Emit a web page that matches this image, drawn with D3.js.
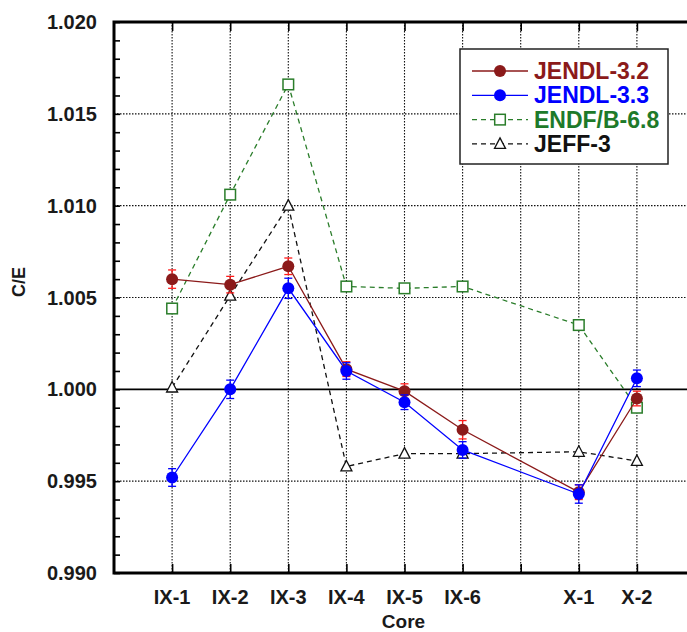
<!DOCTYPE html>
<html>
<head>
<meta charset="utf-8">
<script src="https://cdnjs.cloudflare.com/ajax/libs/d3/7.8.5/d3.min.js"></script>
<style>
body { margin: 0; background: #fff; overflow: hidden; }
text { font-family: "Liberation Sans", Arial, sans-serif; font-weight: bold; }
</style>
</head>
<body>
<div id="chart-area"></div>
<script>
// core names and their position on the x axis
var cores = ["IX-1", "IX-2", "IX-3", "IX-4", "IX-5", "IX-6", "X-1", "X-2"];
var corePos = [1, 2, 3, 4, 5, 6, 8, 9];

var jendl32 = [1.0060, 1.0057, 1.0067, 1.0011, 0.9999, 0.9978, 0.9944, 0.9995];
var jendl32Err = [0.0005, 0.00045, 0.00045, 0.0004, 0.0004, 0.0005, 0.0004, 0.0004];
var jendl33 = [0.9952, 1.0000, 1.0055, 1.0010, 0.9993, 0.9967, 0.9943, 1.0006];
var jendl33Err = [0.00048, 0.0005, 0.00055, 0.00045, 0.0004, 0.00045, 0.0005, 0.00045];
var endf68 = [1.0044, 1.0106, 1.0166, 1.0056, 1.0055, 1.0056, 1.0035, 0.9990];
var jeff3 = [1.0001, 1.0051, 1.0100, 0.9958, 0.9965, 0.9965, 0.9966, 0.9961];

var yTicks = [0.990, 0.995, 1.000, 1.005, 1.010, 1.015, 1.020];

var width = 687, height = 632;
var margin = {left: 114, top: 22, right: 695, bottom: 573};
var pL = margin.left, pT = margin.top, pR = margin.right, pB = margin.bottom;

var svg = d3.select("#chart-area").append("svg")
    .attr("width", width)
    .attr("height", height);

var x = d3.scaleLinear().domain([0, 10]).range([pL, pR]);
var y = d3.scaleLinear().domain([0.990, 1.020]).range([pB, pT]);

// grid
var g = svg.append("g");
g.selectAll(".vgrid").data(d3.range(1, 10)).enter().append("line")
    .attr("x1", (d) => x(d)).attr("x2", (d) => x(d))
    .attr("y1", pT).attr("y2", pB)
    .attr("stroke", "#111").attr("stroke-width", 1.1)
    .attr("stroke-dasharray", "1.5,1.5");

g.selectAll(".hgrid").data(yTicks.filter((d) => d > 0.990 && d < 1.020 && d != 1.000)).enter().append("line")
    .attr("x1", pL).attr("x2", pR)
    .attr("y1", (d) => y(d)).attr("y2", (d) => y(d))
    .attr("stroke", "#111").attr("stroke-width", 1.1)
    .attr("stroke-dasharray", "1.5,1.5");

g.append("line")
    .attr("x1", pL).attr("x2", pR)
    .attr("y1", y(1.000)).attr("y2", y(1.000))
    .attr("stroke", "#000").attr("stroke-width", 1.6);

// axes
var leftAxis = d3.axisRight(y).tickValues(d3.range(0, 31).map((i) => 0.990 + i * 0.001))
    .tickSize(6).tickFormat("");
svg.append("g").attr("transform", "translate(" + pL + ",0)").call(leftAxis)
    .call((a) => a.select(".domain").remove())
    .selectAll("line").attr("stroke-width", 1.6);

var bottomAxis = d3.axisTop(x).tickValues(d3.range(1, 10)).tickSize(9).tickFormat("");
svg.append("g").attr("transform", "translate(0," + pB + ")").call(bottomAxis)
    .call((a) => a.select(".domain").remove())
    .selectAll("line").attr("stroke-width", 1.6);

var topAxis = d3.axisBottom(x).tickValues(d3.range(1, 10)).tickSize(9).tickFormat("");
svg.append("g").attr("transform", "translate(0," + pT + ")").call(topAxis)
    .call((a) => a.select(".domain").remove())
    .selectAll("line").attr("stroke-width", 1.6);

svg.append("rect")
    .attr("x", pL).attr("y", pT)
    .attr("width", pR - pL).attr("height", pB - pT)
    .attr("fill", "none").attr("stroke", "#000").attr("stroke-width", 3);

// tick labels
svg.selectAll(".ylab").data(yTicks).enter().append("text")
    .attr("x", 97).attr("y", (d) => y(d) + 7)
    .attr("text-anchor", "end").attr("font-size", "20px").attr("fill", "#1a1a1a")
    .text((d) => d3.format(".3f")(d));

svg.selectAll(".xlab").data(cores).enter().append("text")
    .attr("x", (d, i) => x(corePos[i])).attr("y", 604)
    .attr("text-anchor", "middle").attr("font-size", "20px").attr("fill", "#1a1a1a")
    .text((d) => d);

svg.append("text")
    .attr("x", (pL + pR) / 2 - 1).attr("y", 628)
    .attr("text-anchor", "middle").attr("font-size", "19px").attr("fill", "#1a1a1a")
    .text("Core");

svg.append("text")
    .attr("transform", "translate(25,282) rotate(-90)")
    .attr("text-anchor", "middle").attr("font-size", "18px").attr("fill", "#1a1a1a")
    .text("C/E");

// series
var series = [
    {name: "ENDF/B-6.8", values: endf68, color: "#2a7d2a", dash: "5,4", marker: "square", text: "#1e7a2a"},
    {name: "JEFF-3", values: jeff3, color: "#111", dash: "5,4", marker: "triangle", text: "#111"},
    {name: "JENDL-3.2", values: jendl32, err: jendl32Err, color: "#8b1a1a", errColor: "#ff1a1a", dash: null, marker: "circle", text: "#8b1a1a"},
    {name: "JENDL-3.3", values: jendl33, err: jendl33Err, color: "#0000ff", errColor: "#0000ff", dash: null, marker: "circle", text: "#0000ff"}
];

var line = d3.line().x((d) => x(d.p)).y((d) => y(d.v));

function drawMarker(sel, s) {
    if (s.marker == "circle") {
        sel.append("circle").attr("r", 6).attr("fill", s.color);
    } else if (s.marker == "square") {
        sel.append("rect").attr("x", -5.3).attr("y", -5.3).attr("width", 10.6).attr("height", 10.6)
            .attr("fill", "#fff").attr("stroke", s.color).attr("stroke-width", 1.5);
    } else {
        sel.append("path").attr("d", "M0,-6L5.5,4.5L-5.5,4.5Z")
            .attr("fill", "#fff").attr("stroke", s.color).attr("stroke-width", 1.3);
    }
}

series.forEach((s) => {
    var pts = s.values.map((v, i) => ({p: corePos[i], v: v, e: s.err ? s.err[i] : 0}));
    var sg = svg.append("g");
    sg.append("path").datum(pts)
        .attr("d", line).attr("fill", "none")
        .attr("stroke", s.color).attr("stroke-width", 1.3)
        .attr("stroke-dasharray", s.dash);

    if (s.err) {
        var eb = sg.selectAll(".err").data(pts).enter().append("g")
            .attr("stroke", s.errColor).attr("stroke-width", 1.3);
        eb.append("line").attr("x1", (d) => x(d.p)).attr("x2", (d) => x(d.p))
            .attr("y1", (d) => y(d.v - d.e)).attr("y2", (d) => y(d.v + d.e));
        eb.append("line").attr("x1", (d) => x(d.p) - 4).attr("x2", (d) => x(d.p) + 4)
            .attr("y1", (d) => y(d.v - d.e)).attr("y2", (d) => y(d.v - d.e));
        eb.append("line").attr("x1", (d) => x(d.p) - 4).attr("x2", (d) => x(d.p) + 4)
            .attr("y1", (d) => y(d.v + d.e)).attr("y2", (d) => y(d.v + d.e));
    }

    sg.selectAll(".mk").data(pts).enter().append("g")
        .attr("transform", (d) => "translate(" + x(d.p) + "," + y(d.v) + ")")
        .each(function() { drawMarker(d3.select(this), s); });
});

// legend
var legend = svg.append("g").attr("transform", "translate(460,49)");
legend.append("rect").attr("width", 208).attr("height", 115)
    .attr("fill", "#fff").attr("stroke", "#222").attr("stroke-width", 1.5);

var legendOrder = [series[2], series[3], series[0], series[1]];
var li = legend.selectAll(".li").data(legendOrder).enter().append("g")
    .attr("transform", (d, i) => "translate(0," + (22 + i * 24.3) + ")");
li.append("line").attr("x1", 12).attr("x2", 68)
    .attr("stroke", (d) => d.color).attr("stroke-width", 1.3)
    .attr("stroke-dasharray", (d) => d.dash);
li.append("g").attr("transform", "translate(40,0)")
    .each(function(d) { drawMarker(d3.select(this), d); });
li.append("text").attr("x", 74).attr("y", 8)
    .attr("font-size", "23px").attr("fill", (d) => d.text)
    .text((d) => d.name);
</script>
</body>
</html>
